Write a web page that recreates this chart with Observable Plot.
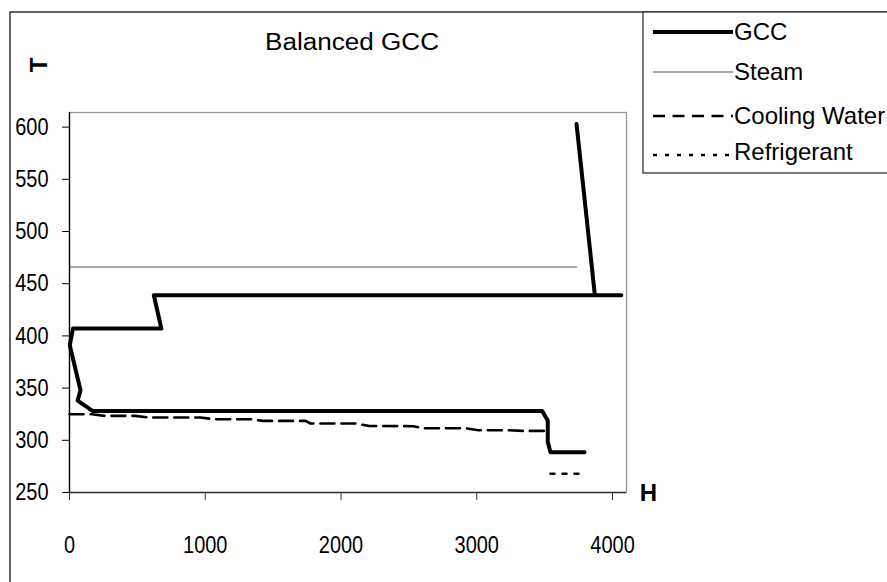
<!DOCTYPE html>
<html><head><meta charset="utf-8">
<script src="https://cdn.jsdelivr.net/npm/d3@7"></script>
<script src="https://cdn.jsdelivr.net/npm/@observablehq/plot@0.6"></script>
<style>
html,body{margin:0;padding:0;background:#fff;}
#chart{position:relative;width:887px;height:582px;overflow:hidden;background:#fff;}
</style></head><body><div id="chart"></div>
<script>
// GCC curve (H, T)
const gccH = [3735, 3870, 4065, 621, 677, 25, 2, 81, 60, 172, 3482, 3523, 3523, 3543, 3794];
const gccT = [603, 439, 439, 439, 407, 407, 391, 348, 338, 328, 328, 319, 298.5, 288.5, 288.5];
// Steam
const steamH = [0, 3735];
const steamT = [466, 466];
// Cooling water
const cwH = [0, 169, 258, 486, 575, 965, 1061, 1333, 1422, 1738, 1775, 2107, 2203, 2534, 2600, 2917, 3013, 3234, 3337, 3521];
const cwT = [325, 325, 323.4, 323.4, 321.9, 321.9, 320.2, 320.2, 318.6, 318.6, 316.1, 316.1, 313.8, 313.5, 311.6, 311.6, 309.7, 309.7, 309, 309];
// Refrigerant
const refH = [3543, 3750];
const refT = [268, 268];
// Axis ticks
const xTicks = [0, 1000, 2000, 3000, 4000];
const yTicks = [250, 300, 350, 400, 450, 500, 550, 600];
const titleText = "Balanced GCC";
const xLabel = "H";
const yLabel = "T";
const legendNames = ["GCC", "Steam", "Cooling Water", "Refrigerant"];

const toRows = (H, T) => H.map((h, i) => ({H: h, T: T[i]}));
const gcc = toRows(gccH, gccT);
const steam = toRows(steamH, steamT);
const cw = toRows(cwH, cwT);
const ref = toRows(refH, refT);

const sans = "'Liberation Sans',Arial,Helvetica,sans-serif";

const plot = Plot.plot({
  width: 887, height: 582,
  marginLeft: 69, marginRight: 261, marginTop: 112, marginBottom: 90,
  x: {domain: [0, 4103]},
  y: {domain: [250, 614]},
  style: {fontFamily: sans, background: "transparent", color: "#000"},
  marks: [
    Plot.frame({stroke: "#999", strokeWidth: 1.3}),
    Plot.line(steam, {x: "H", y: "T", stroke: "#8a8a8a", strokeWidth: 1.3}),
    Plot.line(cw, {x: "H", y: "T", stroke: "#000", strokeWidth: 2.6, strokeDasharray: "14,7"}),
    Plot.line(ref, {x: "H", y: "T", stroke: "#000", strokeWidth: 2.5, strokeDasharray: "4,8"}),
    Plot.line(gcc, {x: "H", y: "T", stroke: "#000", strokeWidth: 4, strokeLinejoin: "round"}),
    Plot.axisX({ticks: xTicks, tickSize: 8, tickPadding: 35, fontSize: 24, label: null, tickFormat: d3.format("d"), stroke: "#333"}),
    Plot.axisY({ticks: yTicks, tickSize: 7, tickPadding: 14, fontSize: 24, label: null, tickFormat: d3.format("d"), stroke: "#000"}),
    Plot.ruleX([0], {stroke: "#000", strokeWidth: 1.3}),
    Plot.ruleY([250], {stroke: "#333", strokeWidth: 1.3})
  ]
});

document.getElementById("chart").appendChild(plot);
const svg = d3.select(plot);

// narrow the tick labels (condensed look of the original)
svg.selectAll("g[aria-label='x-axis tick label'] text, g[aria-label='y-axis tick label'] text")
  .each(function () {
    const n = this.textContent.length;
    d3.select(this).attr("textLength", n * 11.1).attr("lengthAdjust", "spacingAndGlyphs");
  });

// outer border
svg.insert("rect", ":first-child")
  .attr("x", 10).attr("y", 12).attr("width", 900).attr("height", 600)
  .attr("fill", "none").attr("stroke", "#333").attr("stroke-width", 1.5);

// title
svg.append("text").text(titleText)
  .attr("x", 265).attr("y", 49.5)
  .attr("text-anchor", "start")
  .attr("font-family", sans).attr("font-size", 23)
  .attr("textLength", 174).attr("lengthAdjust", "spacingAndGlyphs")
  .attr("fill", "#000");

// axis titles
svg.append("text").text(yLabel)
  .attr("transform", "translate(38,65) rotate(-90)")
  .attr("text-anchor", "middle").attr("dy", "0.36em")
  .attr("font-family", sans).attr("font-weight", "bold").attr("font-size", 24)
  .attr("fill", "#000");
svg.append("text").text(xLabel)
  .attr("x", 648.5).attr("y", 500.5)
  .attr("text-anchor", "middle")
  .attr("font-family", sans).attr("font-weight", "bold").attr("font-size", 24)
  .attr("fill", "#000");

// legend
const lg = svg.append("g");
lg.append("rect").attr("x", 643).attr("y", 12).attr("width", 300).attr("height", 161)
  .attr("fill", "#fff").attr("stroke", "#333").attr("stroke-width", 1.3);
const lineY = [32, 72, 116, 155];
const textY = [39.5, 80, 123.5, 160];
const styles = [
  {stroke: "#000", w: 4, dash: null},
  {stroke: "#8a8a8a", w: 1.3, dash: null},
  {stroke: "#000", w: 2.5, dash: "12,7.5"},
  {stroke: "#000", w: 2.5, dash: "4,8"}
];
legendNames.forEach((name, i) => {
  const l = lg.append("line").attr("x1", 653).attr("x2", 733)
    .attr("y1", lineY[i]).attr("y2", lineY[i])
    .attr("stroke", styles[i].stroke).attr("stroke-width", styles[i].w);
  if (styles[i].dash) l.attr("stroke-dasharray", styles[i].dash);
  lg.append("text").text(name).attr("x", 734).attr("y", textY[i])
    .attr("text-anchor", "start")
    .attr("font-family", sans).attr("font-size", 24).attr("fill", "#000");
});
</script>
</body></html>
